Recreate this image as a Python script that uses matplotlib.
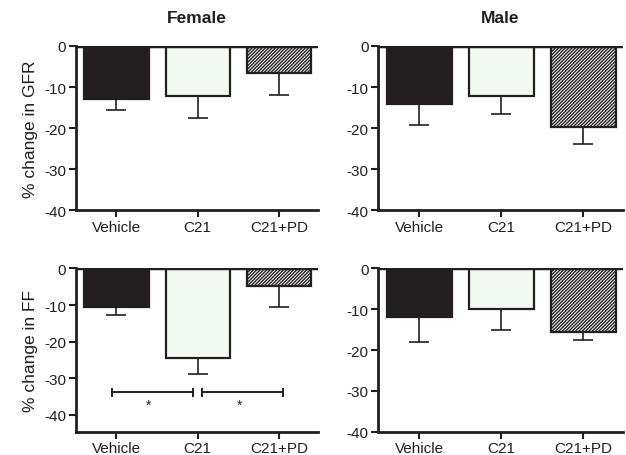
import matplotlib
import matplotlib.pyplot as plt

matplotlib.use('agg', force=True)
plt.rcParams['font.family'] = ['Liberation Sans', 'DejaVu Sans']
plt.rcParams['axes.unicode_minus'] = False
plt.rcParams['hatch.linewidth'] = 1.0

groups = ["Vehicle", "C21", "C21+PD"]

gfr_female = [-12.9, -12.1, -6.5]
gfr_female_err = [2.6, 5.5, 5.4]
gfr_male = [-14.2, -12.2, -19.7]
gfr_male_err = [5.1, 4.3, 4.1]

ff_female = [-10.5, -24.4, -4.8]
ff_female_err = [2.3, 4.4, 5.8]
ff_male = [-11.8, -9.9, -15.5]
ff_male_err = [6.1, 5.1, 1.9]

# significance brackets (female FF)
sig_pairs = [(-0.06, 0.94), (1.05, 2.05)]
sig_stars_x = [0.39, 1.52]
sig_y = -33.9
sig_star_y = -37.4

colors = ["#231f20", "#f3f9f3", "white"]
hatches = [None, None, "//////////"]

fig = plt.figure(figsize=(6.26, 4.56), dpi=100)
positions = {
    "tl": [0.121, 0.537, 0.387, 0.360],
    "tr": [0.604, 0.537, 0.391, 0.360],
    "bl": [0.121, 0.051, 0.387, 0.358],
    "br": [0.604, 0.051, 0.391, 0.358],
}


def draw_panel(ax, vals, errs, ymin, ylabel=None, title=None):
    x = range(len(groups))
    for i in x:
        ax.bar(i, vals[i], width=0.79, color=colors[i], edgecolor="#231f20",
               linewidth=1.6, hatch=hatches[i], zorder=2)
        ax.errorbar(i, vals[i], yerr=[[errs[i]], [0]], fmt="none",
                    ecolor="#231f20", elinewidth=1.2, capsize=7.5,
                    capthick=1.2, zorder=1)
    ax.axhline(0, color="#231f20", linewidth=2.5, zorder=3)
    ax.set_xlim(-0.5, 2.48)
    ax.set_ylim(ymin, 0)
    ax.set_yticks([0, -10, -20, -30, -40])
    ax.set_xticks(list(x))
    ax.set_xticklabels(groups)
    ax.spines["top"].set_visible(False)
    ax.spines["right"].set_visible(False)
    for s in ["left", "bottom"]:
        ax.spines[s].set_linewidth(2)
        ax.spines[s].set_color("#231f20")
    ax.tick_params(axis="both", direction="out", length=5, width=1.5,
                   labelsize=11, color="#231f20", labelcolor="#231f20")
    ax.tick_params(axis="x", pad=2)
    ax.tick_params(axis="y", pad=2)
    if ylabel:
        ax.set_ylabel(ylabel, fontsize=12.5, color="#231f20", labelpad=4)
    if title:
        ax.set_title(title, fontsize=12.5, fontweight="bold", pad=17,
                     color="#231f20")


ax1 = fig.add_axes(positions["tl"])
draw_panel(ax1, gfr_female, gfr_female_err, -40, "% change in GFR", "Female")
ax2 = fig.add_axes(positions["tr"])
draw_panel(ax2, gfr_male, gfr_male_err, -40, None, "Male")
ax3 = fig.add_axes(positions["bl"])
draw_panel(ax3, ff_female, ff_female_err, -44.7, "% change in FF")
ax4 = fig.add_axes(positions["br"])
draw_panel(ax4, ff_male, ff_male_err, -40)

for (a, b), sx in zip(sig_pairs, sig_stars_x):
    ax3.plot([a, b], [sig_y, sig_y], color="#231f20", linewidth=1.4)
    ax3.plot([a, a], [sig_y - 0.9, sig_y + 0.9], color="#231f20", lw=1.4)
    ax3.plot([b, b], [sig_y - 0.9, sig_y + 0.9], color="#231f20", lw=1.4)
    ax3.text(sx, sig_star_y, "*", ha="center", va="center",
             fontsize=10, color="#231f20")

fig.savefig("out.png", dpi=100)
